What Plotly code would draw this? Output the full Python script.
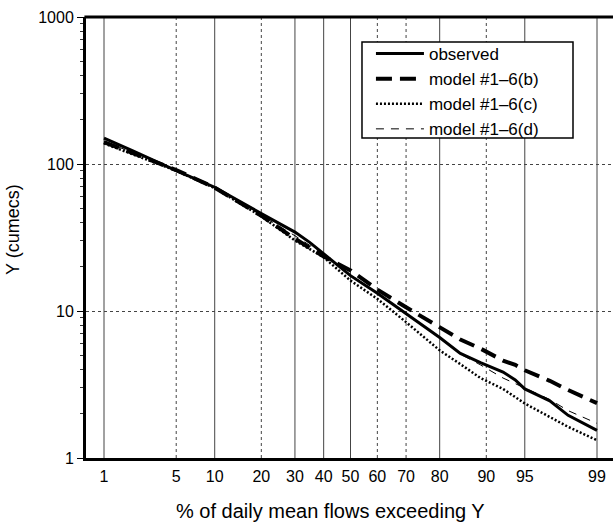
from statistics import NormalDist
import plotly.graph_objects as go

# ---- data ----
pct = [1, 2, 5, 10, 20, 30, 35, 40, 50, 60, 70, 80, 85, 89, 92.5, 94, 95, 97, 98, 99]
observed = [150, 123, 90, 69.5, 46, 34.4, 29.3, 24.6, 17.4, 13.2, 9.6, 6.6, 5.15, 4.45, 3.84, 3.4, 2.95, 2.45, 1.95, 1.54]
model_b = [141, 118, 91, 69, 44.5, 31, 27, 23.5, 18.9, 14, 10.6, 7.8, 6.4, 5.55, 4.6, 4.3, 3.95, 3.35, 2.9, 2.36]
model_c = [138, 116, 90, 68.5, 44, 30.2, 26.5, 23.2, 16.1, 12.1, 8.4, 5.4, 4.35, 3.5, 2.95, 2.6, 2.35, 1.9, 1.63, 1.32]
model_d = [143, 119, 91, 69.5, 45, 32.5, 28, 24, 17.6, 13.3, 9.5, 6.6, 5.1, 4.3, 3.5, 3.2, 3.0, 2.5, 2.1, 1.72]

tick_pct = [1, 5, 10, 20, 30, 40, 50, 60, 70, 80, 90, 95, 99]
tick_text = ["1", "5", "10", "20", "30", "40", "50", "60", "70", "80", "90", "95", "99"]
solid_grid_pct = [1, 10, 30, 40, 50, 80, 95, 99]
dotted_grid_pct = [5, 20, 60, 70, 90]

# normal-probability scale transform
nd = NormalDist()
def z(p):
    return nd.inv_cdf(p / 100.0)

xs = [z(p) for p in pct]
FONT = "Liberation Sans, Arial, Helvetica, sans-serif"

fig = go.Figure()
fig.add_trace(go.Scatter(x=xs, y=observed, mode="lines", name="observed",
                         line=dict(color="black", width=3)))
fig.add_trace(go.Scatter(x=xs, y=model_b, mode="lines", name="model #1–6(b)",
                         line=dict(color="black", width=4, dash="16px,8px")))
fig.add_trace(go.Scatter(x=xs, y=model_c, mode="lines", name="model #1–6(c)",
                         line=dict(color="black", width=2.5, dash="2px,2px")))
fig.add_trace(go.Scatter(x=xs, y=model_d, mode="lines", name="model #1–6(d)",
                         line=dict(color="black", width=1, dash="8px,7px")))

shapes = []
for p in solid_grid_pct:
    shapes.append(dict(type="line", xref="x", yref="paper", x0=z(p), x1=z(p), y0=0, y1=1,
                       line=dict(color="#444", width=1), layer="below"))
for p in dotted_grid_pct:
    shapes.append(dict(type="line", xref="x", yref="paper", x0=z(p), x1=z(p), y0=0, y1=1,
                       line=dict(color="#444", width=1, dash="dot"), layer="below"))
# top frame line
shapes.append(dict(type="line", xref="paper", yref="paper", x0=-0.003, x1=1, y0=1, y1=1,
                   line=dict(color="black", width=3)))
# legend frame
shapes.append(dict(type="rect", xref="paper", yref="paper", x0=0.5237, x1=0.9241, y0=0.7256, y1=0.9433,
                   line=dict(color="black", width=1.5), fillcolor="white", layer="above"))

fig.update_layout(
    width=613, height=523,
    margin=dict(l=86, r=0, t=17, b=65),
    paper_bgcolor="white", plot_bgcolor="white",
    font=dict(family=FONT, color="black", size=16),
    showlegend=True,
    legend=dict(x=0.5407, y=0.9569, xanchor="left", yanchor="top",
                bgcolor="rgba(0,0,0,0)", borderwidth=0,
                font=dict(family=FONT, size=17), itemwidth=48, tracegroupgap=0),
    shapes=shapes,
    xaxis=dict(range=[-2.4962, 2.4773], tickvals=[z(p) for p in tick_pct], ticktext=tick_text,
               showgrid=False, zeroline=False, showline=True, linecolor="black", linewidth=3,
               ticks="outside", ticklen=2, tickcolor="rgba(0,0,0,0)",
               tickfont=dict(size=16)),
    yaxis=dict(type="log", range=[0, 3], tickvals=[1, 10, 100, 1000], ticktext=["1", "10", "100", "1000"],
               showgrid=True, gridcolor="#444", gridwidth=1, griddash="dot",
               zeroline=False, showline=True, linecolor="black", linewidth=3,
               ticks="outside", ticklen=6, tickwidth=1, tickcolor="black",
               tickfont=dict(size=16),
               minor=dict(ticks="outside", ticklen=3, tickwidth=1, tickcolor="#333",
                          dtick="D1", showgrid=False)),
    annotations=[
        dict(text="% of daily mean flows exceeding Y", xref="paper", yref="paper",
             x=0.463, y=-0.12, xanchor="center", yanchor="middle", showarrow=False,
             font=dict(size=20)),
        dict(text="Y (cumecs)", xref="paper", yref="paper", x=-0.1385, y=0.517,
             xanchor="center", yanchor="middle", textangle=-90, showarrow=False,
             font=dict(size=18)),
    ],
)

fig.write_html("out.html", config={"displayModeBar": False},
               post_script="document.body.style.margin='0';document.body.style.overflow='hidden';")
